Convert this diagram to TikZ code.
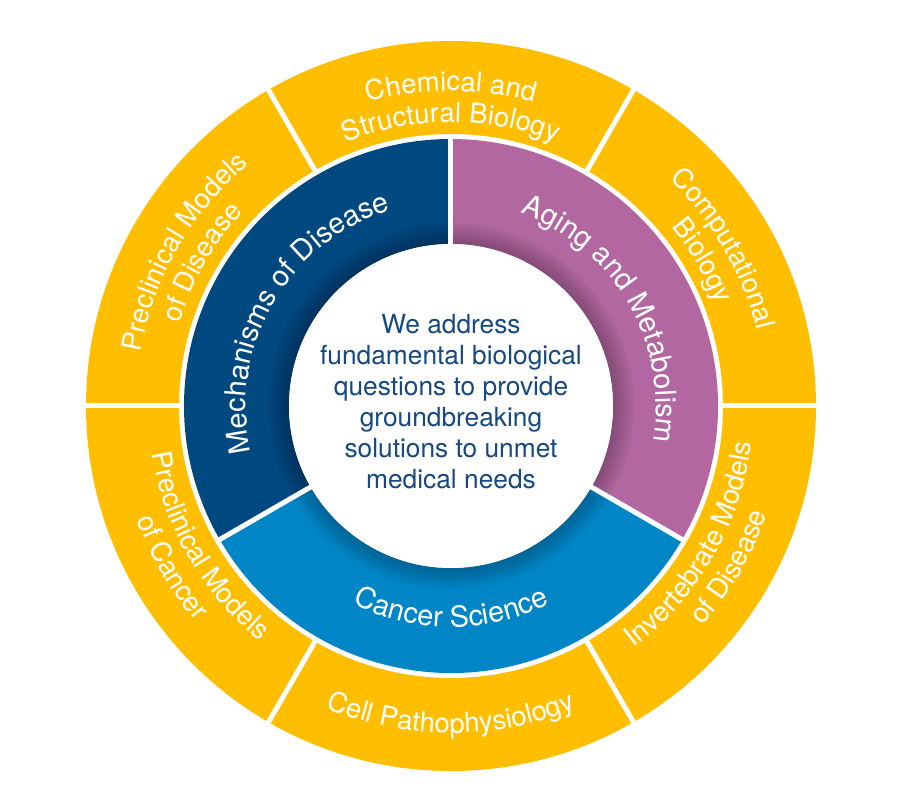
\documentclass[tikz,border=0pt]{standalone}
\usepackage{fontspec}
\setmainfont{TeX Gyre Heros}
\definecolor{ringyellow}{RGB}{255, 190, 0}
\definecolor{mechblue}{RGB}{0, 72, 128}
\definecolor{agingpurple}{RGB}{178, 103, 160}
\definecolor{cancerblue}{RGB}{0, 134, 199}
\definecolor{missionblue}{RGB}{22, 72, 130}
\usetikzlibrary{decorations.text}

\newcommand{\ringfont}{\fontsize{27.5}{31}\selectfont}
\newcommand{\areafont}{\fontsize{29}{33}\selectfont}

\tikzset{
  curved/.style={decorate, decoration={text along path, text align=center,
    text color=white, text={|\ringfont|#1}}},
  area/.style={decorate, decoration={text along path, text align=center,
    text color=white, text={|\areafont|#1}}},
  sep/.style={white, line width=5pt},
}

\begin{document}
\begin{tikzpicture}[x=1pt, y=1pt]
  \useasboundingbox (-451,-405) rectangle (449,406);
  \fill[white] (-451,-405) rectangle (449,406);

  % Outer ring
  \fill[ringyellow, even odd rule] (0,0) circle[radius=365] circle[radius=272];

  % Research areas
  \fill[mechblue] (90:267) arc[start angle=90, end angle=210, radius=267]
    -- (210:162) arc[start angle=210, end angle=90, radius=162] -- cycle;
  \fill[cancerblue] (210:267) arc[start angle=210, end angle=330, radius=267]
    -- (330:162) arc[start angle=330, end angle=210, radius=162] -- cycle;
  \fill[agingpurple] (-30:267) arc[start angle=-30, end angle=90, radius=267]
    -- (90:162) arc[start angle=90, end angle=-30, radius=162] -- cycle;

  % soft shadow round the centre
  \foreach \i in {1,...,7}
    \fill[black, opacity=0.035] (0,0) circle[radius=162+3*\i];

  % Separators
  \foreach \a in {0,60,...,300}
    \draw[sep] (\a:269) -- (\a:368);
  \foreach \a in {90,210,330}
    \draw[sep] (\a:159) -- (\a:269);

  % Centre
  \fill[white] (0,0) circle[radius=162];
  \node[text=missionblue, align=center, font=\fontsize{26.3}{31}\selectfont] (mission) at (0,4) {
    We address\\fundamental biological\\questions to provide\\groundbreaking\\solutions to unmet\\medical needs
  };

  % Inner labels
  \path[area={Mechanisms of Disease}] (210:205) arc[start angle=210, end angle=90, radius=205];
  \path[area={Aging and Metabolism}] (90:205) arc[start angle=90, end angle=-30, radius=205];
  \path[area={Cancer Science}] (210:221) arc[start angle=210, end angle=330, radius=221];

  % Outer labels
  \path[curved={Chemical and}] (130:315) arc[start angle=130, end angle=50, radius=315];
  \path[curved={Structural Biology}] (130:284) arc[start angle=130, end angle=50, radius=284];
  \path[curved={Computational}] (70:315) arc[start angle=70, end angle=-10, radius=315];
  \path[curved={Biology}] (70:284) arc[start angle=70, end angle=-10, radius=284];
  \path[curved={Preclinical Models}] (190:315) arc[start angle=190, end angle=110, radius=315];
  \path[curved={of Disease}] (190:284) arc[start angle=190, end angle=110, radius=284];
  \path[curved={Preclinical Models}] (170:303) arc[start angle=170, end angle=250, radius=303];
  \path[curved={of Cancer}] (170:334) arc[start angle=170, end angle=250, radius=334];
  \path[curved={Cell Pathophysiology}] (230:327) arc[start angle=230, end angle=310, radius=327];
  \path[curved={Invertebrate Models}] (290:303) arc[start angle=290, end angle=370, radius=303];
  \path[curved={of Disease}] (290:334) arc[start angle=290, end angle=370, radius=334];
\end{tikzpicture}
\end{document}
